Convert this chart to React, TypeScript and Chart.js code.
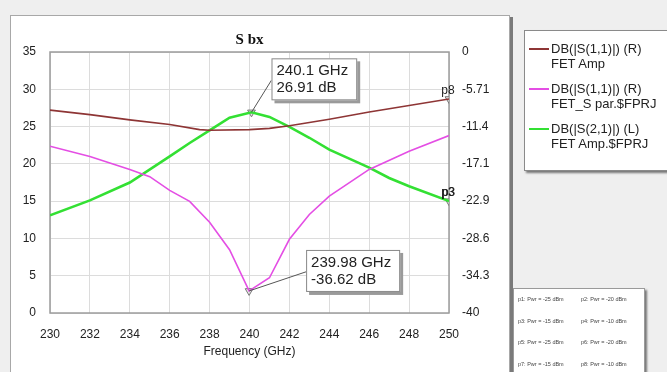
import React, { useEffect, useRef } from 'react';
import { Chart, registerables } from 'chart.js';

Chart.register(...registerables);

// ---------- data ----------
const chartTitle = 'S bx';
const xAxisTitle = 'Frequency (GHz)';

// DB(|S(1,1)|) FET Amp (right axis)
const ampS11Freq = [230, 232, 234, 236, 237.5, 238, 240, 241, 242, 244, 246, 248, 250];
const ampS11Db = [-8.9, -9.6, -10.4, -11.1, -11.9, -12.0, -11.9, -11.7, -11.3, -10.3, -9.2, -8.2, -7.2];

// DB(|S(1,1)|) FET_S par.$FPRJ (right axis)
const sparS11Freq = [230, 232, 234, 235, 236, 237, 238, 239, 239.98, 241, 242, 243, 244, 246, 248, 250];
const sparS11Db = [-14.45, -16.0, -18.0, -19.1, -21.2, -22.9, -26.1, -30.3, -36.62, -34.6, -28.7, -24.9, -22.1, -18.0, -15.2, -12.8];

// DB(|S(2,1)|) FET Amp.$FPRJ (left axis)
const ampS21Freq = [230, 232, 234, 236, 237, 238, 239, 240.1, 241, 242, 243, 244, 246, 247, 248, 250];
const ampS21Db = [13.1, 15.1, 17.5, 21.0, 22.8, 24.5, 26.2, 26.91, 26.3, 24.95, 23.5, 21.9, 19.5, 18.1, 17.0, 15.0];

// marker readouts
const markerFreqs = [240.1, 239.98];
const markerDbs = [26.91, -36.62];
const markerAxes = ['yL', 'yR'];
const endMarkerNames = ['p8', 'p3'];

// axis ticks
const leftTicks = [0, 5, 10, 15, 20, 25, 30, 35];
const rightTickLabels = ['0', '-5.71', '-11.4', '-17.1', '-22.9', '-28.6', '-34.3', '-40'];
const rightTickValues = [0, -40 / 7, -80 / 7, -120 / 7, -160 / 7, -200 / 7, -240 / 7, -40];

// legend
const legendNames = ['DB(|S(1,1)|) (R)', 'DB(|S(1,1)|) (R)', 'DB(|S(2,1)|) (L)'];
const legendSources = ['FET Amp', 'FET_S par.$FPRJ', 'FET Amp.$FPRJ'];
const powerLabels = [
  'p1: Pwr = -25 dBm', 'p2: Pwr = -20 dBm',
  'p3: Pwr = -15 dBm', 'p4: Pwr = -10 dBm',
  'p5: Pwr = -25 dBm', 'p6: Pwr = -20 dBm',
  'p7: Pwr = -15 dBm', 'p8: Pwr = -10 dBm',
];

// ---------- styles ----------
const BROWN = '#8e3535';
const MAGENTA = '#e44ee4';
const GREEN = '#33e033';
const seriesColors = [BROWN, MAGENTA, GREEN];
const SANS = '"Liberation Sans", Arial, sans-serif';

const zip = (xs: number[], ys: number[]) => xs.map((x, i) => ({ x, y: ys[i] }));

const decorPlugin = {
  id: 'decor',
  beforeDatasetsDraw(chart: any) {
    const { ctx, chartArea: a } = chart;
    ctx.save();
    ctx.strokeStyle = '#9c9c9c';
    ctx.lineWidth = 1.5;
    ctx.strokeRect(a.left, a.top, a.right - a.left, a.bottom - a.top);
    ctx.restore();
  },
  afterDraw(chart: any) {
    const { ctx, chartArea: a, scales } = chart;
    ctx.save();
    // title
    ctx.fillStyle = '#111';
    ctx.font = 'bold 15px "Liberation Serif", "Times New Roman", serif';
    ctx.textAlign = 'center';
    ctx.textBaseline = 'middle';
    ctx.fillText(chartTitle, (a.left + a.right) / 2, 40);

    // end marker names
    const ends = [
      { x: ampS11Freq[ampS11Freq.length - 1], y: ampS11Db[ampS11Db.length - 1], ax: 'yR' },
      { x: ampS21Freq[ampS21Freq.length - 1], y: ampS21Db[ampS21Db.length - 1], ax: 'yL' },
    ];
    ctx.font = '12px ' + SANS;
    ctx.textBaseline = 'bottom';
    ends.forEach((e, i) => {
      const px = scales.x.getPixelForValue(e.x);
      const py = scales[e.ax].getPixelForValue(e.y);
      ctx.fillStyle = '#222';
      ctx.fillText(endMarkerNames[i], px - 1, py - 2);
      if (i === 1) ctx.fillText(endMarkerNames[i], px - 0.4, py - 2);
    });

    // readout boxes
    const offsets = [
      { dx: 20, dy: -54 },
      { dx: 57, dy: -41 },
    ];
    ctx.font = '15px ' + SANS;
    ctx.textAlign = 'left';
    ctx.textBaseline = 'middle';
    markerFreqs.forEach((f, i) => {
      const px = scales.x.getPixelForValue(f);
      const py = scales[markerAxes[i]].getPixelForValue(markerDbs[i]);
      const l1 = `${f} GHz`;
      const l2 = `${markerDbs[i]} dB`;
      const w = Math.max(ctx.measureText(l1).width, ctx.measureText(l2).width) + 14;
      const h = 42;
      const bx = px + offsets[i].dx;
      const by = py + offsets[i].dy;
      // leader
      ctx.strokeStyle = '#555';
      ctx.lineWidth = 1;
      ctx.beginPath();
      ctx.moveTo(px, py);
      ctx.lineTo(bx, by + h * 0.52);
      ctx.stroke();
      // shadow
      ctx.fillStyle = '#9a9a9a';
      ctx.fillRect(bx + 3, by + 3, w, h);
      ctx.fillStyle = '#fff';
      ctx.fillRect(bx, by, w, h);
      ctx.strokeStyle = '#888';
      ctx.strokeRect(bx + 0.5, by + 0.5, w - 1, h - 1);
      ctx.fillStyle = '#222';
      ctx.fillText(l1, bx + 5, by + 13);
      ctx.fillText(l2, bx + 5, by + 30);
    });
    ctx.restore();
  },
};

function ChartCanvas() {
  const ref = useRef<HTMLCanvasElement>(null);
  useEffect(() => {
    if (!ref.current) return;
    const markerStyle = {
      showLine: false,
      pointStyle: 'triangle',
      rotation: 180,
      pointRadius: 4.5,
      borderColor: '#777',
      backgroundColor: 'rgba(215,215,215,0.6)',
      borderWidth: 1,
    };
    const chart = new Chart(ref.current, {
      type: 'scatter',
      data: {
        datasets: [
          {
            data: zip(ampS11Freq, ampS11Db), yAxisID: 'yR', showLine: true,
            borderColor: BROWN, borderWidth: 1.6, pointRadius: 0, tension: 0,
          },
          {
            data: zip(sparS11Freq, sparS11Db), yAxisID: 'yR', showLine: true,
            borderColor: MAGENTA, borderWidth: 1.6, pointRadius: 0, tension: 0,
          },
          {
            data: zip(ampS21Freq, ampS21Db), yAxisID: 'yL', showLine: true,
            borderColor: GREEN, borderWidth: 2.6, pointRadius: 0, tension: 0,
          },
          {
            ...markerStyle, yAxisID: 'yL',
            data: [
              { x: markerFreqs[0], y: markerDbs[0] },
              { x: ampS21Freq[ampS21Freq.length - 1], y: ampS21Db[ampS21Db.length - 1] },
            ],
          },
          {
            ...markerStyle, yAxisID: 'yR',
            data: [
              { x: markerFreqs[1], y: markerDbs[1] },
              { x: ampS11Freq[ampS11Freq.length - 1], y: ampS11Db[ampS11Db.length - 1] },
            ],
          },
        ] as any,
      },
      options: {
        responsive: false,
        animation: false,
        layout: { padding: { left: 0, right: 0, top: 52, bottom: 0 } },
        plugins: { legend: { display: false }, tooltip: { enabled: false } },
        scales: {
          x: {
            type: 'linear', min: 230, max: 250,
            ticks: { stepSize: 2, padding: 14, color: '#222', font: { family: SANS, size: 12 } },
            grid: { color: '#dcdcdc', drawTicks: false },
            border: { display: false },
            title: { display: true, text: xAxisTitle, color: '#222', font: { family: SANS, size: 12 }, padding: { top: 0, bottom: 13 } },
            afterFit: (s: any) => { s.height = 59; },
          },
          yL: {
            position: 'left', min: 0, max: 35,
            afterBuildTicks: (s: any) => { s.ticks = leftTicks.map((v) => ({ value: v })); },
            ticks: { padding: 14, color: '#222', font: { family: SANS, size: 12 } },
            grid: { color: '#dcdcdc', drawTicks: false },
            border: { display: false },
            afterFit: (s: any) => { s.width = 50; },
          },
          yR: {
            position: 'right', min: -40, max: 0,
            afterBuildTicks: (s: any) => { s.ticks = rightTickValues.map((v) => ({ value: v })); },
            ticks: {
              padding: 13, color: '#222', font: { family: SANS, size: 12 },
              callback: (_v: any, i: number) => rightTickLabels[i],
            },
            grid: { display: false, drawTicks: false },
            border: { display: false },
            afterFit: (s: any) => { s.width = 218; },
          },
        },
      } as any,
      plugins: [decorPlugin],
    });
    return () => chart.destroy();
  }, []);
  return (
    <canvas ref={ref} width={667} height={372}
      style={{ position: 'absolute', left: 0, top: 0, width: 667, height: 372 }} />
  );
}

export default function App() {
  return (
    <div style={{ position: 'fixed', left: 0, top: 0, width: 667, height: 372, overflow: 'hidden', background: '#efefef', fontFamily: SANS }}>
      {/* main panel */}
      <div style={{ position: 'absolute', left: 10, top: 15, width: 498, height: 380, background: '#fff', border: '1px solid #a8a8a8', boxShadow: '3px 2px 0 #7a7a7a' }} />
      <ChartCanvas />
      {/* legend */}
      <div style={{ position: 'absolute', left: 524, top: 30, width: 160, height: 139, background: '#fff', border: '1px solid #8a8a8a', boxShadow: '2px 2px 2px #777' }}>
        {legendNames.map((name, i) => (
          <div key={i} style={{ position: 'absolute', left: 0, top: 10 + i * 40, width: 160 }}>
            <div style={{ position: 'absolute', left: 4, top: 7, width: 20, height: 2, background: seriesColors[i] }} />
            <div style={{ position: 'absolute', left: 26, top: 0, fontSize: 13, lineHeight: '15px', color: '#222', whiteSpace: 'nowrap' }}>
              <div>{name}</div>
              <div>{legendSources[i]}</div>
            </div>
          </div>
        ))}
      </div>
      {/* power list */}
      <div style={{ position: 'absolute', left: 513, top: 288, width: 130, height: 100, background: '#fff', border: '1px solid #9a9a9a', boxShadow: '2px 2px 2px #777' }}>
        {powerLabels.map((t, i) => (
          <div key={i} style={{ position: 'absolute', left: i % 2 === 0 ? 4 : 67, top: 10 + Math.floor(i / 2) * 21.7 - 4, fontSize: 5.5, lineHeight: '8px', color: '#444', whiteSpace: 'nowrap' }}>{t}</div>
        ))}
      </div>
    </div>
  );
}
